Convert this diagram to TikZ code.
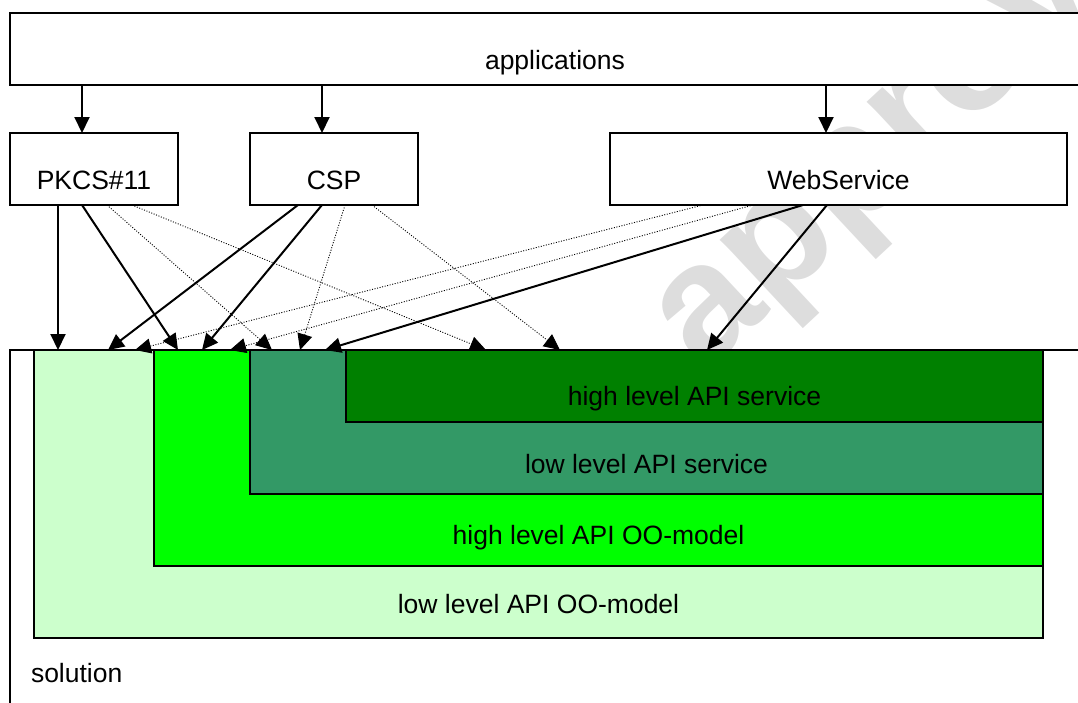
\documentclass[tikz,border=0pt]{standalone}
\usepackage{fontspec}
\setmainfont{Liberation Sans}
\usetikzlibrary{arrows.meta,calc}
\definecolor{lightg}{HTML}{CCFFCC}
\definecolor{brightg}{HTML}{00FF00}
\definecolor{tealg}{HTML}{339966}
\definecolor{darkg}{HTML}{008000}
\definecolor{wmgray}{RGB}{221,221,221}
\tikzset{
  box/.style={draw, line width=1.5pt, fill=white, inner sep=0pt, outer sep=0pt,
    font=\fontsize{26.5}{30}\selectfont},
  layer/.style={draw, line width=1.5pt, inner sep=0pt, outer sep=0pt, anchor=north west,
    font=\fontsize{26.5}{30}\selectfont},
  plain/.style={inner sep=0pt, outer sep=0pt, font=\fontsize{26.5}{30}\selectfont},
  sarrow/.style={-{Triangle[length=16pt,width=15pt]}, line width=2pt},
  darrow/.style={-{Triangle[length=16pt,width=15pt]}, line width=0.9pt, dash pattern=on 1pt off 1.6pt}
}
\begin{document}
\begin{tikzpicture}[x=1pt,y=-1pt]
\useasboundingbox (0,0) rectangle (1078,702);
\clip (0,0) rectangle (1078,702);
% watermark
\node[rotate=43, text=wmgray, inner sep=0pt, anchor=base west,
  font=\fontsize{165}{165}\selectfont\bfseries] (wm) at (704,374) {approved};
% top boxes
\node[box, anchor=north west, minimum width=1090pt, text height=56pt, text depth=16pt] (app) at (10,13) {applications};
\node[box, anchor=north west, minimum width=168pt, text height=56pt, text depth=16pt] (pkcs) at (10,133) {PKCS\#11};
\node[box, anchor=north west, minimum width=168pt, text height=56pt, text depth=16pt] (csp) at (250,133) {CSP};
\node[box, anchor=north west, minimum width=457pt, text height=56pt, text depth=16pt] (ws) at (610,133) {WebService};
% solution
\node[box, anchor=north west, minimum width=1090pt, minimum height=400pt] (sol) at (10,350) {};
\node[layer, fill=lightg, minimum width=1009pt, text height=263pt, text depth=25pt] (lo) at (34,350) {low level API OO-model};
\node[layer, fill=brightg, minimum width=889pt, text height=194pt, text depth=22pt] (ho) at (154,350) {high level API OO-model};
\node[layer, fill=tealg, minimum width=793pt, text height=123pt, text depth=21pt] (ls) at (250,350) {low level API service};
\node[layer, fill=darkg, minimum width=697pt, text height=55pt, text depth=17pt] (hs) at (346,350) {high level API service};
\node[plain, anchor=base west] (soltext) at (31,682) {solution};
% arrows from applications
\coordinate (pin) at ($(pkcs.north west)+(72,0)$);
\coordinate (cin) at ($(csp.north west)+(72,0)$);
\coordinate (win) at ($(ws.north west)+(216,0)$);
\draw[sarrow] (pin |- app.south) -- (pin);
\draw[sarrow] (cin |- app.south) -- (cin);
\draw[sarrow] (win |- app.south) -- (win);
% PKCS#11
\draw[sarrow] ($(pkcs.south west)+(48,0)$) -- ($(sol.north west)+(48,0)$);
\draw[sarrow] ($(pkcs.south west)+(72,0)$) -- ($(sol.north west)+(168,0)$);
\draw[darrow] ($(pkcs.south west)+(97,0)$) -- ($(sol.north west)+(262,0)$);
\draw[darrow] ($(pkcs.south west)+(122,0)$) -- ($(sol.north west)+(476,0)$);
% CSP
\draw[sarrow] ($(csp.south west)+(48,0)$) -- ($(sol.north west)+(98,0)$);
\draw[sarrow] ($(csp.south west)+(72,0)$) -- ($(sol.north west)+(192,0)$);
\draw[darrow] ($(csp.south west)+(95,0)$) -- ($(sol.north west)+(290,0)$);
\draw[darrow] ($(csp.south west)+(122,0)$) -- ($(sol.north west)+(550,0)$);
% WebService
\draw[sarrow] ($(ws.south west)+(217,0)$) -- ($(sol.north west)+(697,0)$);
\draw[sarrow] ($(ws.south west)+(193,0)$) -- ($(sol.north west)+(315,0)$);
\draw[darrow] ($(ws.south west)+(143,0)$) -- ($(sol.north west)+(220,0)$);
\draw[darrow] ($(ws.south west)+(93,0)$) -- ($(sol.north west)+(125,0)$);
\end{tikzpicture}
\end{document}
